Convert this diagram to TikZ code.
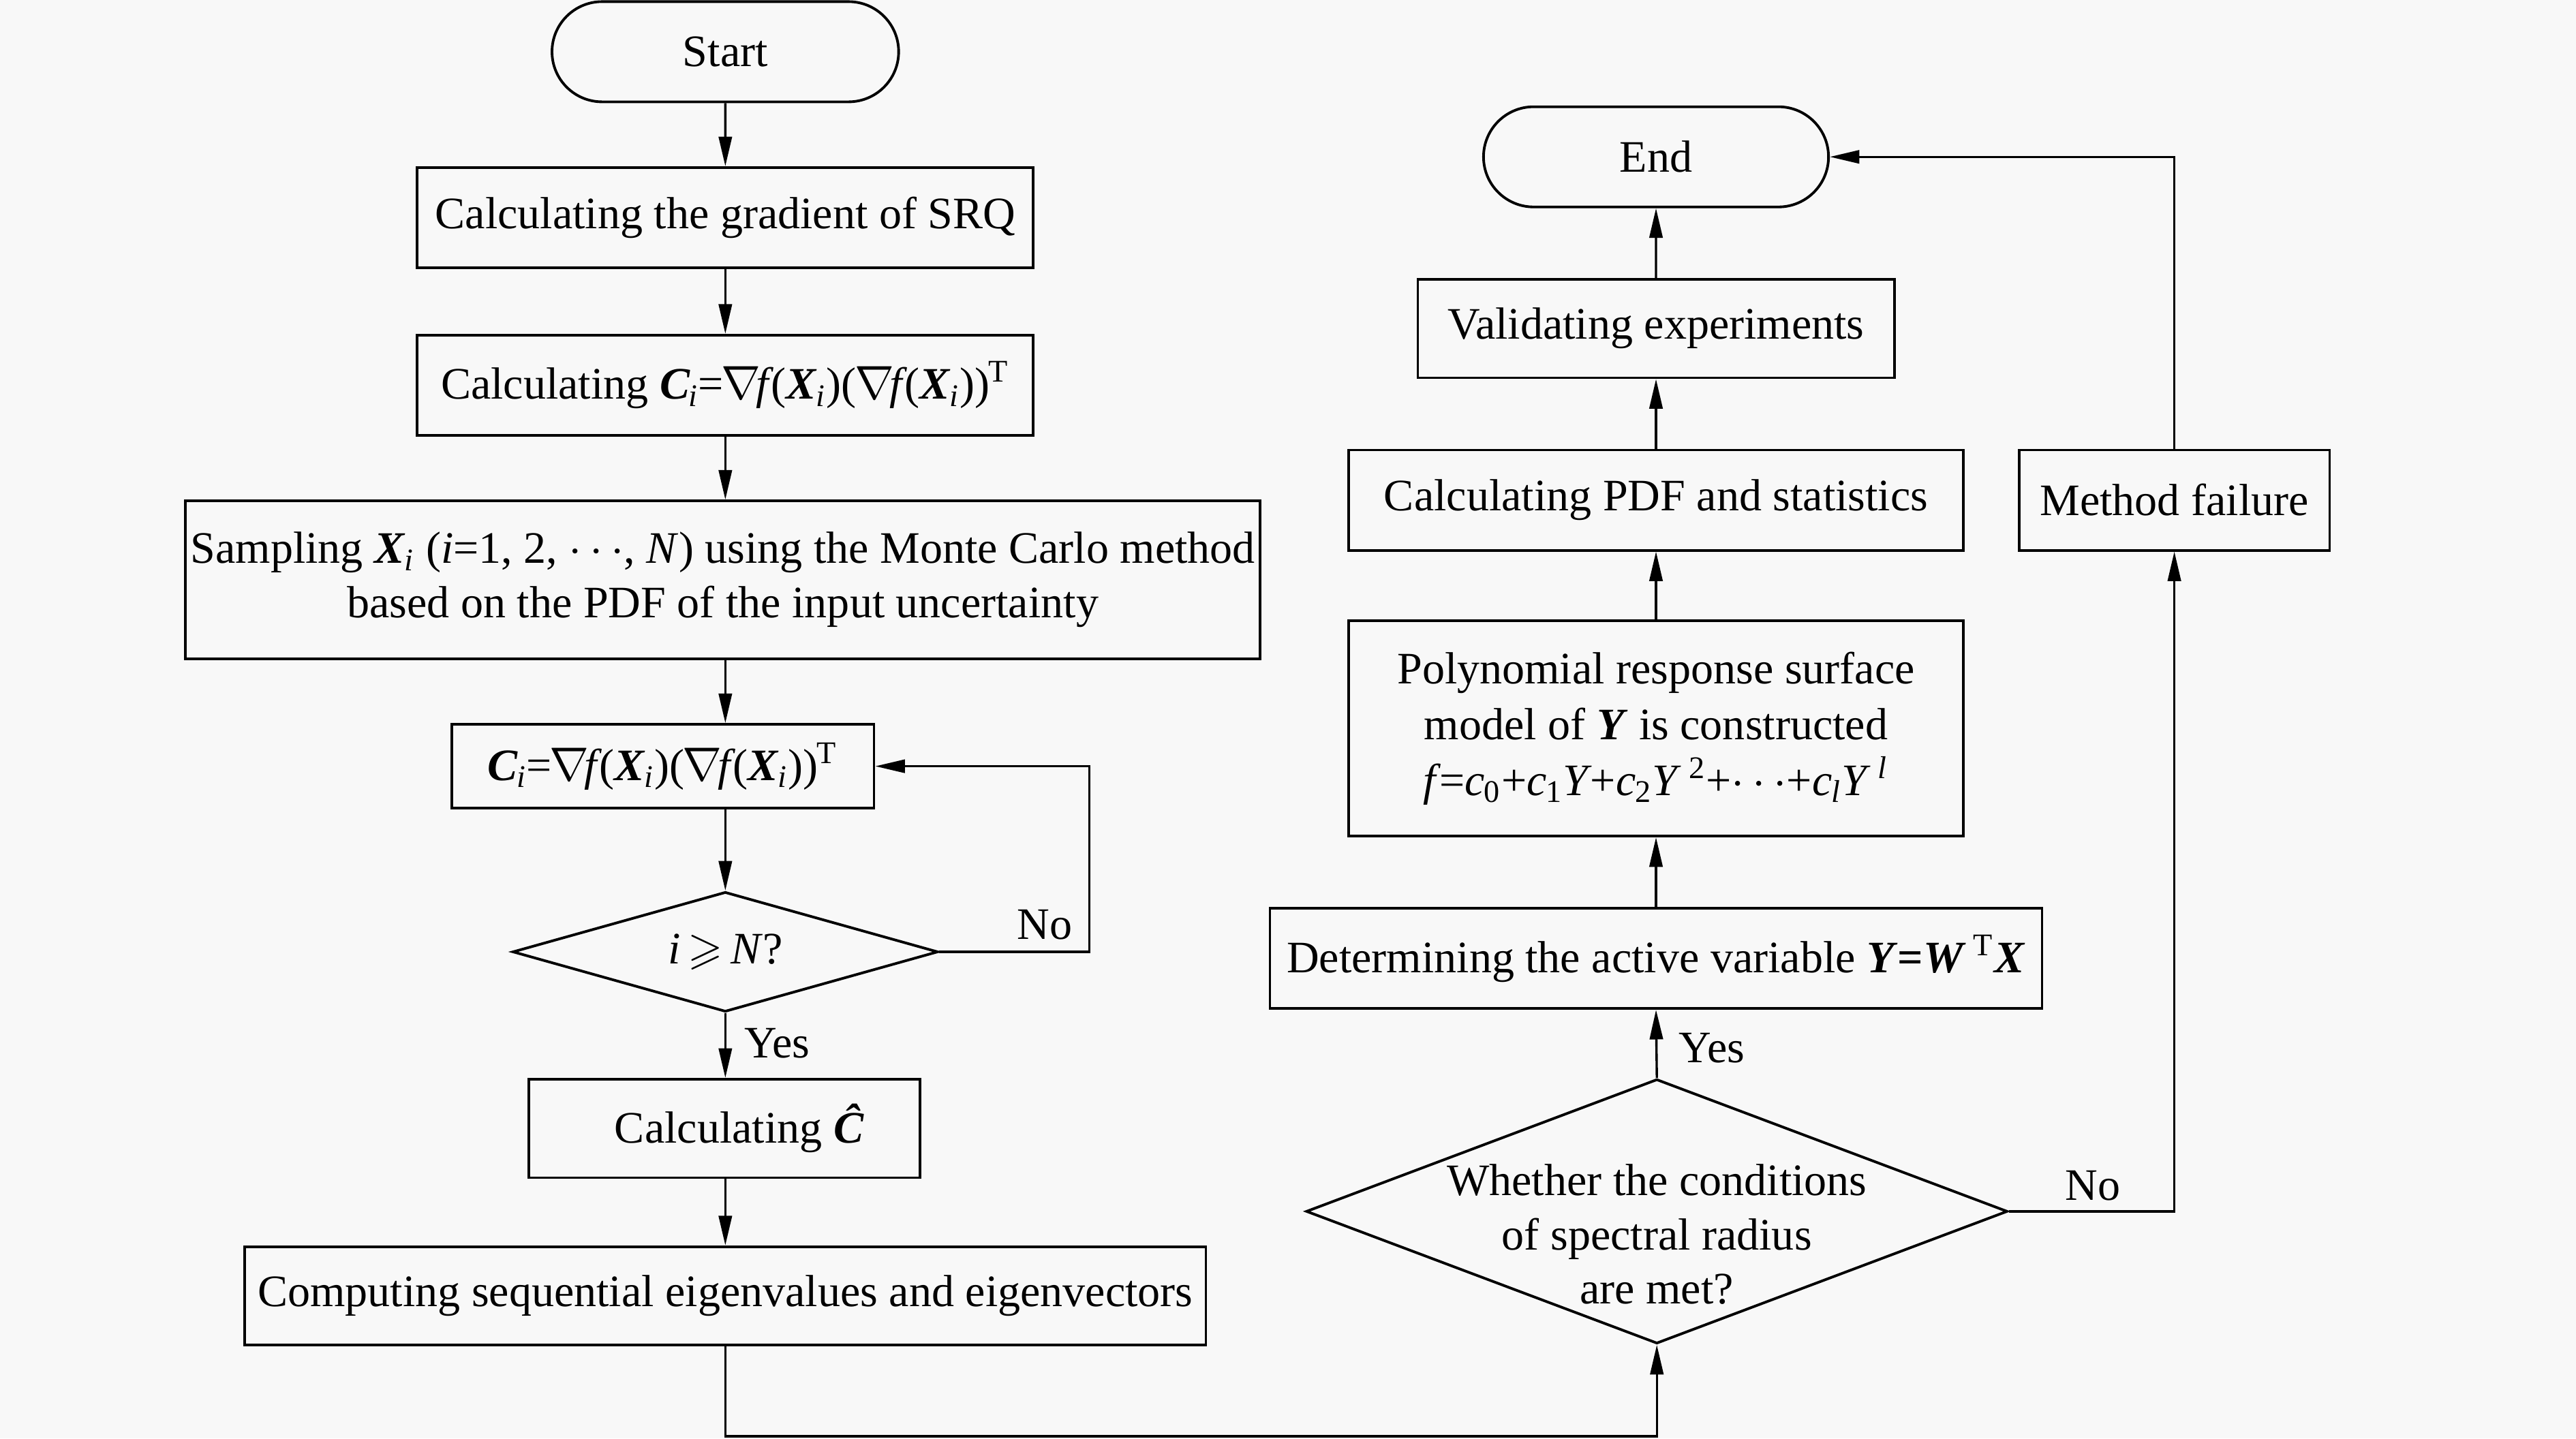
\documentclass[tikz,border=0pt]{standalone}
\usepackage{fontspec}
\setmainfont{Liberation Serif}
\usepackage{amssymb}
\usetikzlibrary{shapes.misc,shapes.geometric,arrows.meta}
\definecolor{bgc}{RGB}{248,248,248}
\newcommand{\bi}[1]{\textbf{\textit{#1}}}
\newcommand{\mynabla}{\kern-0.6pt$\nabla$\kern-1.4pt}
\newcommand{\myfit}{\textit{f}\kern-0.8pt}
\newcommand{\myCform}{\bi{C}\kern-0.5pt\textsubscript{\textit{i}}\kern-0.3pt=\mynabla\myfit(\bi{X}\kern-0.3pt\textsubscript{\textit{i}})(\mynabla\myfit(\bi{X}\kern-0.3pt\textsubscript{\textit{i}}))\kern-0.3pt\textsuperscript{T}}
\begin{document}
\begin{tikzpicture}[x=0.5pt,y=-0.5pt,
  every node/.style={font=\fontsize{13.7}{16.5}\selectfont, inner sep=0pt, align=center},
  box/.style={draw, rectangle, line width=0.8pt},
  term/.style={draw, rounded rectangle, line width=0.8pt},
  dec/.style={draw, diamond, line width=0.8pt},
  arr/.style={-{Triangle[length=9pt,width=4pt]}, line width=0.7pt}]
\fill[bgc] (0,0) rectangle (1568,875.7);
\useasboundingbox (0,0) rectangle (1568,875.7);

% left column
\node[term, minimum width=105.5pt, minimum height=30.5pt] (start) at (441.5,31.5) {Start};
\node[box, minimum width=187.5pt, minimum height=30.5pt] (grad) at (441.5,132.5) {Calculating the gradient of SRQ};
\node[box, minimum width=187.5pt, minimum height=30.5pt] (ci) at (441.5,234.5)
  {Calculating \myCform};
\node[box, minimum width=327pt, minimum height=48pt] (samp) at (440,353)
  {Sampling \bi{X}\kern-0.3pt\textsubscript{\textit{i}} (\textit{i}=1, 2, $\cdots$, \textit{N}) using the Monte Carlo method\\based on the PDF of the input uncertainty};
\node[box, minimum width=128.5pt, minimum height=25.5pt] (citwo) at (403.5,466.5)
  {\myCform};
\node[dec, shape aspect=3.55, minimum width=129.5pt, minimum height=36.5pt] (dA) at (441.5,579.5) {\textit{i}\,$\geqslant$\,\textit{N}?};
\node[box, minimum width=119pt, minimum height=30pt] (chat) at (441,687) {\hspace*{9pt}Calculating \bi{\^{C}}};
\node[box, minimum width=292.5pt, minimum height=30pt] (comp) at (441.5,789) {Computing sequential eigenvalues and eigenvectors};

% right column
\node[term, minimum width=105pt, minimum height=30.5pt] (endn) at (1008,95.5) {End};
\node[box, minimum width=145pt, minimum height=30pt] (valid) at (1008,200) {Validating experiments};
\node[box, minimum width=187pt, minimum height=30.5pt] (stat) at (1008,304.5) {Calculating PDF and statistics};
\node[box, minimum width=187pt, minimum height=65.5pt, font=\fontsize{13.7}{17}\selectfont] (poly) at (1008,443.5)
  {Polynomial response surface\\model of \bi{Y} is constructed\\\textit{f}\kern-0.5pt=\textit{c}\kern-0.3pt\textsubscript{0}+\textit{c}\kern-0.3pt\textsubscript{1}\textit{Y}\kern-0.5pt+\textit{c}\kern-0.3pt\textsubscript{2}\textit{Y}\,\textsuperscript{2}+$\cdots$+\textit{c}\kern-0.3pt\textsubscript{\textit{l}}\textit{Y}\,\textsuperscript{\textit{l}}};
\node[box, minimum width=235pt, minimum height=30.5pt] (det) at (1008,583.5)
  {Determining the active variable \bi{Y}\textbf{=}\bi{W}\,\textsuperscript{T}\bi{X}};
\node[dec, shape aspect=2.65, minimum width=213.5pt, minimum height=80.5pt,
  label={[align=center, yshift=-7pt, font=\fontsize{13.7}{16.5}\selectfont]center:{Whether the conditions\\of spectral radius\\are met?}}] (dB) at (1008.5,737.5) {};
\node[box, minimum width=94.5pt, minimum height=30.5pt] (mf) at (1323.5,304.5) {Method failure};

% labels
\node (noA) at (636,563) {No};
\node (yesA) at (473,635) {Yes};
\node (yesB) at (1042,638) {Yes};
\node (noB) at (1274,722) {No};

% helper coordinates
\coordinate (cA) at (663,579.5);
\coordinate (bot) at (441.5,874.5);

% connectors
\draw[arr] (start) -- (grad);
\draw[arr] (grad) -- (ci);
\draw[arr] (ci.south) -- (ci.south |- samp.north);
\draw[arr] (samp.south -| dA) -- (citwo.north -| dA);
\draw[arr] (citwo.south -| dA) -- (dA.north);
\draw[arr] (dA.south) -- (dA.south |- chat.north);
\draw[arr] (chat.south -| dA) -- (comp.north -| dA);
\draw[arr] (dA.east) -- (cA) |- (citwo.east);
\draw[arr] (comp.south) -- (bot) -| (dB.south);
\draw[arr] (dB.north) -- (det.south);
\draw[arr] (det) -- (poly);
\draw[arr] (poly) -- (stat);
\draw[arr] (stat) -- (valid);
\draw[arr] (valid) -- (endn);
\draw[arr] (dB.east) -| (mf.south);
\draw[arr] (mf.north) |- (endn.east);
\end{tikzpicture}
\end{document}
